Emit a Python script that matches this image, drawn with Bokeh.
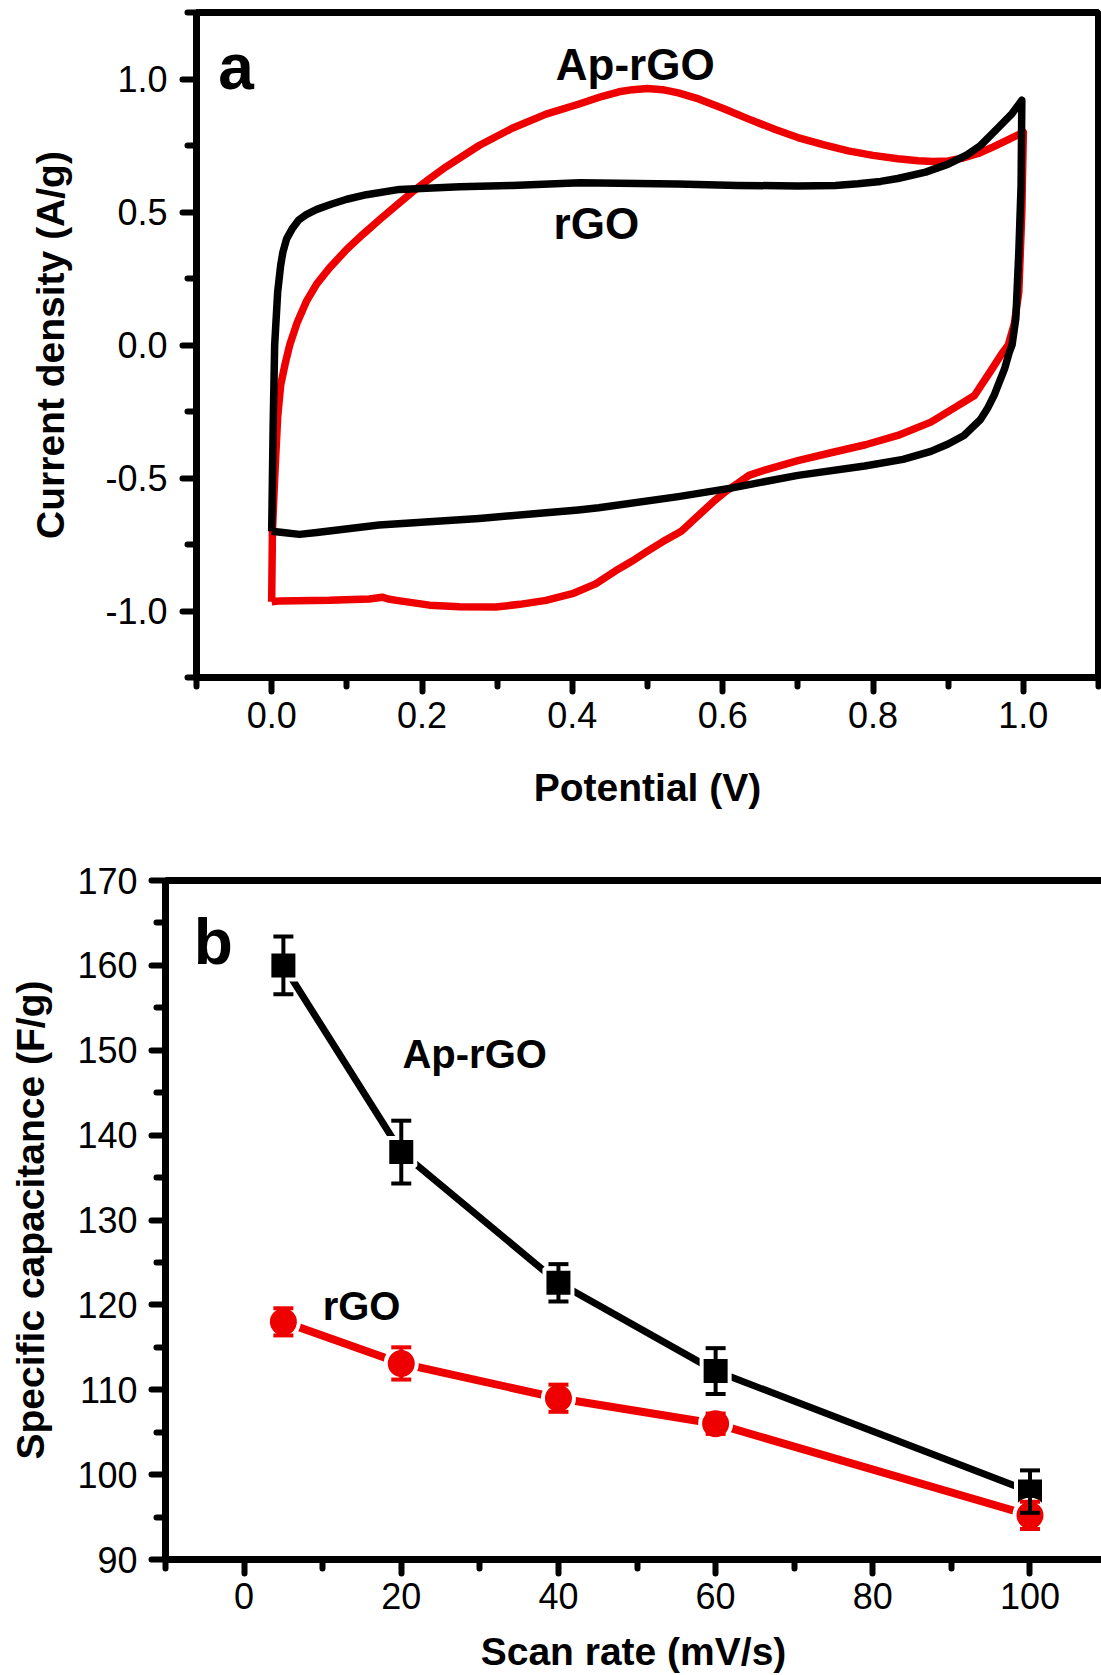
from bokeh.plotting import figure
from bokeh.models import (FixedTicker, Label, Whisker, TeeHead, ColumnDataSource,
                          LinearAxis, Range1d, NumeralTickFormatter)
from bokeh.embed import file_html
from bokeh.resources import INLINE

# ---------------- Panel a: cyclic voltammograms ----------------
rgo_cv_potential = [0.000, 0.002, 0.004, 0.008, 0.012, 0.015, 0.020, 0.028, 0.036, 0.046,
                    0.060, 0.080, 0.100, 0.126, 0.170, 0.250, 0.320, 0.410, 0.540, 0.620,
                    0.700, 0.750, 0.780, 0.810, 0.833, 0.870, 0.900, 0.925, 0.943, 0.966,
                    0.985, 0.998, 0.997, 0.994, 0.990, 0.985, 0.981, 0.975, 0.968, 0.961,
                    0.952, 0.943, 0.921, 0.900, 0.877, 0.840, 0.789, 0.700, 0.611, 0.541,
                    0.435, 0.408, 0.276, 0.143, 0.060, 0.037, 0.015, 0.000]
rgo_cv_current = [-0.700, -0.300, 0.000, 0.200, 0.300, 0.350, 0.400, 0.440, 0.470, 0.490,
                  0.510, 0.530, 0.548, 0.565, 0.585, 0.595, 0.600, 0.610, 0.605, 0.600,
                  0.598, 0.600, 0.606, 0.615, 0.626, 0.650, 0.680, 0.715, 0.750, 0.815,
                  0.870, 0.920, 0.600, 0.350, 0.100, 0.000, -0.030, -0.090, -0.140, -0.190,
                  -0.240, -0.280, -0.340, -0.372, -0.400, -0.430, -0.455, -0.490, -0.538, -0.570,
                  -0.612, -0.620, -0.652, -0.677, -0.705, -0.712, -0.705, -0.700]

aprgo_cv_potential = [0.000, 0.001, 0.004, 0.008, 0.012, 0.018, 0.024, 0.034, 0.046, 0.060,
                      0.077, 0.100, 0.121, 0.143, 0.166, 0.187, 0.210, 0.232, 0.276, 0.320,
                      0.365, 0.408, 0.440, 0.462, 0.480, 0.500, 0.520, 0.541, 0.568, 0.600,
                      0.634, 0.670, 0.700, 0.735, 0.767, 0.800, 0.833, 0.860, 0.880, 0.900,
                      0.920, 0.940, 0.960, 0.980, 1.000, 0.998, 0.994, 0.988, 0.980, 0.972,
                      0.956, 0.935, 0.912, 0.877, 0.833, 0.790, 0.744, 0.700, 0.656, 0.635,
                      0.620, 0.605, 0.590, 0.568, 0.545, 0.520, 0.500, 0.478, 0.457, 0.431,
                      0.400, 0.365, 0.330, 0.298, 0.250, 0.210, 0.166, 0.155, 0.147, 0.130,
                      0.077, 0.011, 0.000]
aprgo_cv_current = [-0.965, -0.700, -0.500, -0.270, -0.150, -0.070, 0.000, 0.085, 0.163, 0.230,
                    0.290, 0.360, 0.415, 0.470, 0.525, 0.575, 0.625, 0.670, 0.750, 0.815,
                    0.868, 0.905, 0.935, 0.952, 0.960, 0.964, 0.960, 0.948, 0.925, 0.890,
                    0.850, 0.810, 0.780, 0.752, 0.730, 0.713, 0.700, 0.693, 0.690, 0.692,
                    0.703, 0.720, 0.745, 0.772, 0.800, 0.500, 0.200, 0.080, 0.000, -0.030,
                    -0.100, -0.190, -0.230, -0.290, -0.340, -0.375, -0.405, -0.435, -0.470, -0.490,
                    -0.520, -0.548, -0.583, -0.640, -0.700, -0.740, -0.775, -0.815, -0.850, -0.898,
                    -0.935, -0.960, -0.975, -0.985, -0.984, -0.978, -0.960, -0.955, -0.948, -0.955,
                    -0.960, -0.962, -0.965]

cv_x_major = [0.0, 0.2, 0.4, 0.6, 0.8, 1.0]
cv_x_minor = [-0.1, 0.1, 0.3, 0.5, 0.7, 0.9, 1.1]
cv_y_major = [-1.0, -0.5, 0.0, 0.5, 1.0]
cv_y_minor = [-1.25, -0.75, -0.25, 0.25, 0.75, 1.25]

# ---------------- Panel b: specific capacitance ----------------
scan_rate = [5, 20, 40, 60, 100]
aprgo_capacitance = [160.0, 138.0, 122.6, 112.2, 98.0]
aprgo_error = [3.4, 3.7, 2.2, 2.7, 2.5]
rgo_capacitance = [118.0, 113.1, 109.0, 106.0, 95.2]
rgo_error = [1.6, 1.9, 1.6, 1.2, 1.6]

sc_x_major = [0, 20, 40, 60, 80, 100]
sc_x_minor = [-10, 10, 30, 50, 70, 90, 110]
sc_y_major = [90, 100, 110, 120, 130, 140, 150, 160, 170]
sc_y_minor = [95, 105, 115, 125, 135, 145, 155, 165]

FONT = "Liberation Sans"
RED = "#ee0000"
AXW = 7


def style_axis(ax, major, minor, fmt, label_standoff, title_standoff):
    ax.ticker = FixedTicker(ticks=major, minor_ticks=minor)
    ax.formatter = NumeralTickFormatter(format=fmt)
    ax.axis_line_width = AXW
    ax.axis_line_color = "black"
    ax.major_tick_line_width = 6
    ax.minor_tick_line_width = 6
    ax.major_tick_line_cap = "round"
    ax.minor_tick_line_cap = "round"
    ax.major_tick_out = 14
    ax.major_tick_in = 0
    ax.minor_tick_out = 9
    ax.minor_tick_in = 0
    ax.major_label_standoff = label_standoff
    ax.major_label_text_font = FONT
    ax.major_label_text_font_size = "36px"
    ax.major_label_text_color = "black"
    ax.axis_label_text_font = FONT
    ax.axis_label_text_font_style = "bold"
    ax.axis_label_text_font_size = "39px"
    ax.axis_label_text_color = "black"
    ax.axis_label_standoff = title_standoff


def bold_label(x, y, text, size):
    return Label(x=x, y=y, text=text, text_font=FONT, text_font_style="bold",
                 text_font_size=size, text_baseline="alphabetic", text_color="black")


# ---------------- figure a ----------------
p1 = figure(width=1101, height=840, output_backend="svg", toolbar_location=None, tools="",
            x_range=Range1d(-0.1, 1.1), y_range=Range1d(-1.25, 1.25),
            min_border_left=196, min_border_right=3, min_border_top=12, min_border_bottom=163,
            x_axis_label="Potential (V)", y_axis_label="Current density (A/g)")
p1.grid.visible = False
p1.outline_line_color = "black"
p1.outline_line_width = AXW
p1.background_fill_color = "white"
p1.border_fill_color = "white"
style_axis(p1.xaxis[0], cv_x_major, cv_x_minor, "0.0", 10, 35)
style_axis(p1.yaxis[0], cv_y_major, cv_y_minor, "0.0", 15, 30)

p1.line(aprgo_cv_potential, aprgo_cv_current, line_color=RED, line_width=7.5, line_join="round")
p1.line(rgo_cv_potential, rgo_cv_current, line_color="black", line_width=7.5, line_join="round")

p1.add_layout(bold_label(-0.071, 1.045, "a", "64px"))
p1.add_layout(bold_label(0.378, 1.056, "Ap-rGO", "44px"))
p1.add_layout(bold_label(0.375, 0.455, "rGO", "44px"))

# ---------------- figure b ----------------
p2 = figure(width=1101, height=835, output_backend="svg", toolbar_location=None, tools="",
            x_range=Range1d(-10, 109.1), y_range=Range1d(90, 170),
            min_border_left=165, min_border_right=0, min_border_top=40, min_border_bottom=115,
            x_axis_label="Scan rate (mV/s)", y_axis_label="Specific capacitance (F/g)")
p2.grid.visible = False
p2.outline_line_color = None
p2.background_fill_color = "white"
p2.border_fill_color = "white"
style_axis(p2.xaxis[0], sc_x_major, sc_x_minor, "0", 9, 18)
style_axis(p2.yaxis[0], sc_y_major, sc_y_minor, "0", 14, 22)

top_axis = LinearAxis(ticker=FixedTicker(ticks=[]), axis_line_width=AXW, axis_line_color="black",
                      major_tick_out=0, minor_tick_out=0, major_label_text_font_size="0px")
p2.add_layout(top_axis, "above")

src_ap = ColumnDataSource(dict(x=scan_rate, y=aprgo_capacitance,
                               upper=[v + e for v, e in zip(aprgo_capacitance, aprgo_error)],
                               lower=[v - e for v, e in zip(aprgo_capacitance, aprgo_error)]))
src_rg = ColumnDataSource(dict(x=scan_rate, y=rgo_capacitance,
                               upper=[v + e for v, e in zip(rgo_capacitance, rgo_error)],
                               lower=[v - e for v, e in zip(rgo_capacitance, rgo_error)]))

p2.line("x", "y", source=src_ap, line_color="black", line_width=7)
p2.line("x", "y", source=src_rg, line_color=RED, line_width=8)
p2.scatter("x", "y", source=src_ap, marker="square", size=28, fill_color="black",
           line_color="white", line_width=4)
p2.scatter("x", "y", source=src_rg, marker="circle", size=31, fill_color=RED,
           line_color="white", line_width=4)

for src, col in ((src_rg, RED), (src_ap, "black")):
    w = Whisker(source=src, base="x", upper="upper", lower="lower", line_color=col, line_width=4,
                upper_head=TeeHead(size=20, line_color=col, line_width=4),
                lower_head=TeeHead(size=20, line_color=col, line_width=4))
    w.level = "overlay"
    p2.add_layout(w)

p2.add_layout(bold_label(-6.4, 162.8, "b", "64px"))
p2.add_layout(bold_label(20.15, 149.5, "Ap-rGO", "40px"))
p2.add_layout(bold_label(10.0, 119.9, "rGO", "40px"))

open("out.html", "w").write(file_html([p1, p2], INLINE))
